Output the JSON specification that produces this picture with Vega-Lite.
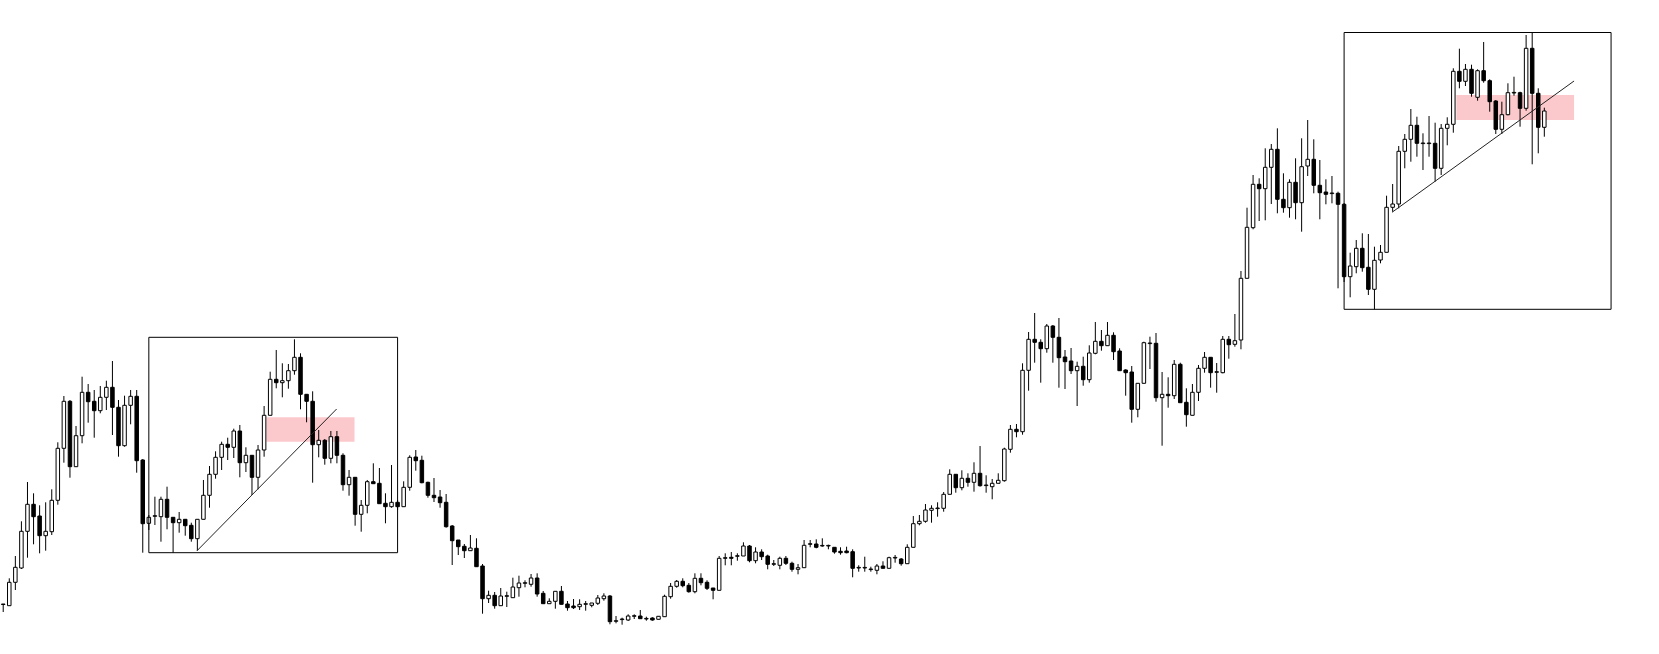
{
"$schema": "https://vega.github.io/schema/vega-lite/v6.json",
"width": 1659, "height": 654,
"autosize": {"type": "fit", "contains": "padding"},
"padding": 0,
"background": "white",
"config": {"view": {"stroke": null}, "scale": {"continuousPadding": 0}},
"datasets": {
"candles": [
{"i":0,"o":49.5,"h":50,"l":42,"c":50},
{"i":1,"o":48.3,"h":75.7,"l":48.3,"c":71.7},
{"i":2,"o":71.7,"h":98,"l":64,"c":86.7},
{"i":3,"o":86,"h":132.7,"l":85,"c":122.7},
{"i":4,"o":122.7,"h":172,"l":96.3,"c":149.7},
{"i":5,"o":149.7,"h":160.7,"l":109.7,"c":137.3},
{"i":6,"o":138,"h":148.7,"l":100.7,"c":118.3},
{"i":7,"o":118.3,"h":151.7,"l":103.3,"c":122.7},
{"i":8,"o":122.3,"h":164.7,"l":119,"c":153.7},
{"i":9,"o":153.7,"h":211.7,"l":149.3,"c":205.7},
{"i":10,"o":205.7,"h":258,"l":191.3,"c":252.7},
{"i":11,"o":252.7,"h":254,"l":176.3,"c":187.3},
{"i":12,"o":187.3,"h":228,"l":187.3,"c":218.3},
{"i":13,"o":218.3,"h":277.3,"l":210.7,"c":261.7},
{"i":14,"o":261.7,"h":270,"l":231.3,"c":252.3},
{"i":15,"o":252.7,"h":264,"l":216.3,"c":243.3},
{"i":16,"o":243.3,"h":268,"l":240.7,"c":256.7},
{"i":17,"o":256.7,"h":273.3,"l":244,"c":266.7},
{"i":18,"o":266.7,"h":293,"l":219,"c":246.7},
{"i":19,"o":246.7,"h":254,"l":197.3,"c":208.3},
{"i":20,"o":208.3,"h":258.3,"l":207.3,"c":248.7},
{"i":21,"o":248.7,"h":264,"l":229.7,"c":257.7},
{"i":22,"o":257.7,"h":264,"l":181.3,"c":193.3},
{"i":23,"o":194,"h":195,"l":101.3,"c":130.3},
{"i":24,"o":130.7,"h":139,"l":124,"c":136.7},
{"i":25,"o":137.7,"h":157.3,"l":129,"c":138.3},
{"i":26,"o":137.3,"h":157.3,"l":112.3,"c":154.7},
{"i":27,"o":154.7,"h":167.3,"l":124.7,"c":136.7},
{"i":28,"o":136.7,"h":136.7,"l":101.3,"c":131.3},
{"i":29,"o":131.3,"h":142,"l":121.3,"c":134.7},
{"i":30,"o":134.7,"h":134.7,"l":118.3,"c":128.3},
{"i":31,"o":128.7,"h":131.3,"l":112.3,"c":115.3},
{"i":32,"o":115.3,"h":134.7,"l":103.3,"c":134.7},
{"i":33,"o":134.7,"h":174,"l":134.7,"c":158.7},
{"i":34,"o":158.7,"h":188,"l":146.3,"c":179.7},
{"i":35,"o":179.7,"h":202.7,"l":175.3,"c":196.7},
{"i":36,"o":196.7,"h":212.3,"l":184,"c":209.7},
{"i":37,"o":209.7,"h":216.3,"l":194,"c":206.7},
{"i":38,"o":206.7,"h":225.3,"l":196,"c":223},
{"i":39,"o":223,"h":229,"l":176.7,"c":191.3},
{"i":40,"o":191.3,"h":206.7,"l":182,"c":198.7},
{"i":41,"o":198.7,"h":198.7,"l":159,"c":176.7},
{"i":42,"o":176.7,"h":209,"l":164.7,"c":204},
{"i":43,"o":204,"h":248,"l":197.3,"c":238.7},
{"i":44,"o":238.7,"h":282.3,"l":238.7,"c":274.7},
{"i":45,"o":274.7,"h":304,"l":265.7,"c":271.3},
{"i":46,"o":271.3,"h":290.7,"l":256.7,"c":273.3},
{"i":47,"o":273.3,"h":290,"l":265.3,"c":283.3},
{"i":48,"o":283.3,"h":314.7,"l":279.3,"c":296.7},
{"i":49,"o":296.7,"h":300.7,"l":244.7,"c":259.7},
{"i":50,"o":259.7,"h":259.7,"l":231.7,"c":252.7},
{"i":51,"o":252.7,"h":262.7,"l":171.3,"c":209.3},
{"i":52,"o":209.3,"h":224,"l":196.7,"c":213.7},
{"i":53,"o":213.7,"h":215,"l":189.3,"c":195.7},
{"i":54,"o":195.7,"h":223,"l":190.7,"c":217.3},
{"i":55,"o":217.3,"h":223,"l":190.7,"c":198.7},
{"i":56,"o":198.7,"h":200.7,"l":163.3,"c":169.3},
{"i":57,"o":169.3,"h":184,"l":158.3,"c":176.7},
{"i":58,"o":176.7,"h":176.7,"l":128.3,"c":139.7},
{"i":59,"o":139.7,"h":154,"l":122.3,"c":148.7},
{"i":60,"o":148.7,"h":174,"l":140.7,"c":172.3},
{"i":61,"o":172.3,"h":190.7,"l":170.3,"c":170.3},
{"i":62,"o":170.7,"h":186,"l":150.3,"c":150.3},
{"i":63,"o":150.7,"h":160.7,"l":130.7,"c":147.3},
{"i":64,"o":147.3,"h":189,"l":146.3,"c":151.7},
{"i":65,"o":151.7,"h":154,"l":144,"c":147.3},
{"i":66,"o":147.3,"h":172.7,"l":147.3,"c":166.7},
{"i":67,"o":166.7,"h":198.7,"l":163.3,"c":196.7},
{"i":68,"o":197,"h":204,"l":183.3,"c":193.3},
{"i":69,"o":193.7,"h":198.3,"l":170.7,"c":171.3},
{"i":70,"o":171.7,"h":172.3,"l":156.3,"c":158.7},
{"i":71,"o":158.7,"h":176,"l":152,"c":156.3},
{"i":72,"o":157,"h":164,"l":146.3,"c":151.3},
{"i":73,"o":151.7,"h":160,"l":126.3,"c":127.3},
{"i":74,"o":128,"h":129,"l":89,"c":113.3},
{"i":75,"o":114,"h":114,"l":99,"c":107.3},
{"i":76,"o":107.7,"h":110,"l":96,"c":103.3},
{"i":77,"o":103.3,"h":119,"l":103.3,"c":106},
{"i":78,"o":105.7,"h":115.7,"l":87.3,"c":87.3},
{"i":79,"o":88,"h":90,"l":40.3,"c":55.3},
{"i":80,"o":55.3,"h":63.3,"l":51,"c":58.7},
{"i":81,"o":58.7,"h":62,"l":45.3,"c":48.3},
{"i":82,"o":48.3,"h":66,"l":48.3,"c":58},
{"i":83,"o":57.7,"h":62.3,"l":47,"c":58.3},
{"i":84,"o":56.3,"h":76.3,"l":56.3,"c":67},
{"i":85,"o":66.3,"h":78.3,"l":57.3,"c":71},
{"i":86,"o":70.7,"h":73.7,"l":66.7,"c":71.3},
{"i":87,"o":69.7,"h":80,"l":67.3,"c":76},
{"i":88,"o":76,"h":80.7,"l":57.3,"c":60},
{"i":89,"o":60.7,"h":63,"l":50.3,"c":50.3},
{"i":90,"o":50.3,"h":55.7,"l":50.3,"c":52.7},
{"i":91,"o":52.7,"h":62.7,"l":45.3,"c":62.7},
{"i":92,"o":62.7,"h":68,"l":49.7,"c":49.7},
{"i":93,"o":50,"h":53,"l":43.3,"c":46.3},
{"i":94,"o":48,"h":55,"l":45,"c":46.3},
{"i":95,"o":47.3,"h":54.7,"l":44,"c":49.7},
{"i":96,"o":49.7,"h":53,"l":43.3,"c":50.3},
{"i":97,"o":48.7,"h":51,"l":46.7,"c":51},
{"i":98,"o":50.7,"h":59,"l":49,"c":56},
{"i":99,"o":55.3,"h":60.7,"l":53.3,"c":58},
{"i":100,"o":58,"h":59,"l":29.7,"c":32.3},
{"i":101,"o":32.7,"h":38,"l":30.7,"c":33.3},
{"i":102,"o":34.4,"h":36.3,"l":29.3,"c":35},
{"i":103,"o":34,"h":39.7,"l":33,"c":38},
{"i":104,"o":37.7,"h":39.7,"l":35,"c":38.3},
{"i":105,"o":38,"h":44,"l":35.3,"c":35.3},
{"i":106,"o":35,"h":37.3,"l":33.3,"c":35.6},
{"i":107,"o":36,"h":36.7,"l":33.3,"c":34},
{"i":108,"o":34.7,"h":37.7,"l":34.7,"c":37.7},
{"i":109,"o":37.3,"h":59.3,"l":37.3,"c":57.7},
{"i":110,"o":57.3,"h":71,"l":55.3,"c":67.7},
{"i":111,"o":67.7,"h":74,"l":66.3,"c":72.7},
{"i":112,"o":72.7,"h":75.7,"l":66.7,"c":68.3},
{"i":113,"o":68.7,"h":71,"l":61.3,"c":62.3},
{"i":114,"o":62.3,"h":80.7,"l":60.7,"c":75.7},
{"i":115,"o":75.7,"h":80.7,"l":68.7,"c":71.3},
{"i":116,"o":71.7,"h":73.7,"l":64,"c":65.7},
{"i":117,"o":66,"h":66,"l":54.7,"c":63.7},
{"i":118,"o":63.7,"h":98,"l":63.7,"c":95.7},
{"i":119,"o":95.7,"h":100.7,"l":88.7,"c":96.3},
{"i":120,"o":96.7,"h":102,"l":88.7,"c":95.7},
{"i":121,"o":97.7,"h":100.7,"l":93.3,"c":98.3},
{"i":122,"o":98,"h":111.7,"l":98,"c":108},
{"i":123,"o":108,"h":109,"l":91.7,"c":93.3},
{"i":124,"o":93.3,"h":106.7,"l":90.7,"c":102},
{"i":125,"o":102,"h":104.7,"l":94,"c":97.3},
{"i":126,"o":98,"h":99.3,"l":84.7,"c":89.7},
{"i":127,"o":89.7,"h":94,"l":88,"c":90.3},
{"i":128,"o":88.7,"h":97.3,"l":84.7,"c":95.7},
{"i":129,"o":95.7,"h":98,"l":89,"c":90.7},
{"i":130,"o":90.7,"h":92.3,"l":82.3,"c":84.7},
{"i":131,"o":84.7,"h":90,"l":79.7,"c":86.3},
{"i":132,"o":86.3,"h":114,"l":86.3,"c":108.7},
{"i":133,"o":109.7,"h":114,"l":106.7,"c":110.3},
{"i":134,"o":110,"h":114.7,"l":105.7,"c":106.7},
{"i":135,"o":108,"h":115.7,"l":107.3,"c":108.6},
{"i":136,"o":108,"h":109.3,"l":104.7,"c":108.6},
{"i":137,"o":106.7,"h":106.7,"l":100.3,"c":102},
{"i":138,"o":102.7,"h":106.7,"l":99.3,"c":101.3},
{"i":139,"o":103,"h":107.3,"l":100.7,"c":101.3},
{"i":140,"o":102.3,"h":104.7,"l":76.7,"c":85.7},
{"i":141,"o":86,"h":88.7,"l":82.3,"c":86.6},
{"i":142,"o":86,"h":97.3,"l":82.3,"c":86.6},
{"i":143,"o":84.4,"h":87.3,"l":82.3,"c":85},
{"i":144,"o":83.7,"h":90,"l":79.7,"c":88},
{"i":145,"o":88,"h":92.7,"l":85.7,"c":85.7},
{"i":146,"o":85.7,"h":97.3,"l":85.7,"c":96.3},
{"i":147,"o":96,"h":99,"l":91.3,"c":96.6},
{"i":148,"o":95,"h":96,"l":88.3,"c":90.3},
{"i":149,"o":90.3,"h":109.7,"l":90.3,"c":106.7},
{"i":150,"o":106.7,"h":138,"l":106.7,"c":130.3},
{"i":151,"o":130.3,"h":139,"l":128.7,"c":132.7},
{"i":152,"o":132.7,"h":150,"l":131.3,"c":144},
{"i":153,"o":143.7,"h":148.7,"l":131.3,"c":145.7},
{"i":154,"o":145.4,"h":151.7,"l":137.3,"c":146},
{"i":155,"o":145.7,"h":162,"l":142.3,"c":159.7},
{"i":156,"o":159.7,"h":184.7,"l":159.7,"c":179.7},
{"i":157,"o":179.7,"h":179.7,"l":161.3,"c":166.3},
{"i":158,"o":166.3,"h":183.7,"l":163.7,"c":175.7},
{"i":159,"o":175.7,"h":180.7,"l":167.3,"c":171.7},
{"i":160,"o":171.7,"h":191.7,"l":162.3,"c":180.7},
{"i":161,"o":180.7,"h":208,"l":167.3,"c":168.3},
{"i":162,"o":168.4,"h":178.7,"l":161.3,"c":169},
{"i":163,"o":167.3,"h":175,"l":154.7,"c":170.7},
{"i":164,"o":170.7,"h":180.7,"l":170.7,"c":173.7},
{"i":165,"o":173.3,"h":206.3,"l":172.3,"c":205},
{"i":166,"o":204.7,"h":229,"l":201.3,"c":224.7},
{"i":167,"o":224.7,"h":230,"l":216.7,"c":222.3},
{"i":168,"o":222.3,"h":290.7,"l":219.3,"c":283.7},
{"i":169,"o":283.7,"h":322,"l":263.3,"c":314.7},
{"i":170,"o":314.7,"h":341,"l":291.3,"c":311.7},
{"i":171,"o":311.7,"h":314.7,"l":271.3,"c":305.3},
{"i":172,"o":305.3,"h":330,"l":301.3,"c":328},
{"i":173,"o":328,"h":329,"l":291.3,"c":316.7},
{"i":174,"o":316.7,"h":336,"l":266.3,"c":296.3},
{"i":175,"o":297,"h":304,"l":265,"c":292.3},
{"i":176,"o":293,"h":306,"l":280,"c":283.3},
{"i":177,"o":283.3,"h":292.3,"l":248,"c":287.7},
{"i":178,"o":287.7,"h":297.3,"l":268.3,"c":274.3},
{"i":179,"o":274.3,"h":308.7,"l":271.3,"c":301},
{"i":180,"o":300.7,"h":332,"l":299.7,"c":312.7},
{"i":181,"o":312.7,"h":324,"l":303.3,"c":308.3},
{"i":182,"o":308.3,"h":332,"l":308.3,"c":318.7},
{"i":183,"o":318.7,"h":321.7,"l":294,"c":302.3},
{"i":184,"o":303,"h":305.7,"l":283.3,"c":283.3},
{"i":185,"o":284,"h":284.7,"l":258.3,"c":281.3},
{"i":186,"o":282,"h":288,"l":231.3,"c":244.7},
{"i":187,"o":244.7,"h":270.7,"l":236.7,"c":270.7},
{"i":188,"o":270.7,"h":312.3,"l":270.7,"c":311.3},
{"i":189,"o":310.4,"h":317.3,"l":285,"c":311},
{"i":190,"o":310.7,"h":321,"l":252.3,"c":256.3},
{"i":191,"o":256.3,"h":282,"l":208.3,"c":259.7},
{"i":192,"o":259.7,"h":276.7,"l":246.3,"c":258.3},
{"i":193,"o":258.3,"h":294,"l":255,"c":289.7},
{"i":194,"o":289.7,"h":291.3,"l":251.3,"c":251.3},
{"i":195,"o":251.7,"h":265.7,"l":227.3,"c":239.3},
{"i":196,"o":238.7,"h":270,"l":238.7,"c":261.7},
{"i":197,"o":261.7,"h":289,"l":253,"c":285.7},
{"i":198,"o":285.7,"h":302,"l":281.3,"c":296.7},
{"i":199,"o":296.7,"h":296.7,"l":266.3,"c":281.3},
{"i":200,"o":281.7,"h":291,"l":261.3,"c":282.3},
{"i":201,"o":281.3,"h":318,"l":280.7,"c":314.7},
{"i":202,"o":314.7,"h":318,"l":295.3,"c":309.3},
{"i":203,"o":309.7,"h":340,"l":307.3,"c":313.3},
{"i":204,"o":314,"h":383,"l":304.7,"c":375.7},
{"i":205,"o":375.7,"h":446.3,"l":375.7,"c":426.7},
{"i":206,"o":426.3,"h":479,"l":424.7,"c":469.7},
{"i":207,"o":469.7,"h":475.7,"l":433,"c":465.3},
{"i":208,"o":465.3,"h":505.7,"l":433.7,"c":486.7},
{"i":209,"o":486.7,"h":510,"l":450,"c":504.7},
{"i":210,"o":504.7,"h":525.7,"l":440.7,"c":454.7},
{"i":211,"o":454.7,"h":480.7,"l":441.3,"c":446.3},
{"i":212,"o":446.3,"h":474.7,"l":436.3,"c":471.7},
{"i":213,"o":471.7,"h":495.7,"l":434.7,"c":451.3},
{"i":214,"o":451.3,"h":515.7,"l":422.3,"c":487.3},
{"i":215,"o":488,"h":534,"l":478,"c":494.7},
{"i":216,"o":494.7,"h":514.7,"l":460.7,"c":468.7},
{"i":217,"o":468.7,"h":494,"l":434.7,"c":461.3},
{"i":218,"o":462,"h":474.7,"l":449.7,"c":459.7},
{"i":219,"o":460.4,"h":478,"l":450.7,"c":461},
{"i":220,"o":460.7,"h":462.3,"l":365.7,"c":449.7},
{"i":221,"o":449.7,"h":451,"l":372,"c":377.3},
{"i":222,"o":377.3,"h":401.3,"l":356.7,"c":388},
{"i":223,"o":387.3,"h":414,"l":380.7,"c":405.7},
{"i":224,"o":405.7,"h":420.7,"l":382.3,"c":386.3},
{"i":225,"o":386.7,"h":420,"l":359,"c":364.7},
{"i":226,"o":364.7,"h":407.3,"l":344.7,"c":393.7},
{"i":227,"o":394,"h":409,"l":390.7,"c":401.7},
{"i":228,"o":401.7,"h":458.3,"l":401.7,"c":446.7},
{"i":229,"o":446.7,"h":470,"l":442.3,"c":450},
{"i":230,"o":450,"h":508,"l":445.7,"c":502.7},
{"i":231,"o":502.7,"h":520,"l":485.7,"c":514.7},
{"i":232,"o":514.7,"h":545,"l":492.3,"c":528.7},
{"i":233,"o":528.7,"h":537.3,"l":497.3,"c":510.7},
{"i":234,"o":510.4,"h":520.7,"l":484,"c":511},
{"i":235,"o":510.4,"h":538,"l":497.3,"c":511},
{"i":236,"o":510.7,"h":531.3,"l":472.3,"c":485.7},
{"i":237,"o":485.7,"h":530,"l":479,"c":525.7},
{"i":238,"o":525.7,"h":536.7,"l":508.7,"c":529.7},
{"i":239,"o":529.7,"h":585.7,"l":521.3,"c":582.7},
{"i":240,"o":582.7,"h":605.3,"l":565.7,"c":572.7},
{"i":241,"o":572.7,"h":590,"l":568,"c":584.7},
{"i":242,"o":584.7,"h":589.3,"l":557.3,"c":560.7},
{"i":243,"o":556.7,"h":584.7,"l":553.3,"c":583.3},
{"i":244,"o":583.3,"h":612,"l":571.3,"c":573.3},
{"i":245,"o":573.3,"h":574.7,"l":542.3,"c":552.3},
{"i":246,"o":553,"h":554,"l":520,"c":524.7},
{"i":247,"o":524.7,"h":552.3,"l":520,"c":539.3},
{"i":248,"o":539.3,"h":570.7,"l":538.7,"c":561.3},
{"i":249,"o":561,"h":577.3,"l":558.3,"c":561.6},
{"i":250,"o":561.3,"h":562.3,"l":527.3,"c":545.7},
{"i":251,"o":545.7,"h":619,"l":543.3,"c":605.7},
{"i":252,"o":605.7,"h":621.7,"l":489.7,"c":560.7},
{"i":253,"o":560.7,"h":565.7,"l":500.7,"c":526.7},
{"i":254,"o":526.7,"h":546.3,"l":517.3,"c":543}
],
"zones": [
{"x1":43.4,"x2":57.9,"y1":212.3,"y2":236.7},
{"x1":239.5,"x2":258.9,"y1":534,"y2":559}
],
"boxes": [
{"x1":24,"x2":65,"y1":101.3,"y2":316.7},
{"x1":221,"x2":265,"y1":344.7,"y2":621.5}
],
"lines": [
{"x1":31.95,"y1":103.3,"x2":54.95,"y2":245},
{"x1":228.9,"y1":441.7,"x2":258.9,"y2":573}
]
},
"layer": [
{"data": {"name": "zones"},
 "mark": {"type": "rect", "fill": "#fbc8cc"},
 "encoding": {
  "x": {"field": "x1", "type": "quantitative", "scale": {"domain": [-0.2, 272.9], "nice": false, "zero": false, "padding": 0}, "axis": null},
  "x2": {"field": "x2"},
  "y": {"field": "y1", "type": "quantitative", "scale": {"domain": [0, 654], "nice": false, "zero": false, "padding": 0}, "axis": null},
  "y2": {"field": "y2"}}},
{"data": {"name": "candles"},
 "mark": {"type": "rule", "color": "black", "strokeWidth": 1},
 "encoding": {
  "x": {"field": "i", "type": "quantitative", "scale": {"domain": [-0.2, 272.9], "nice": false, "zero": false, "padding": 0}, "axis": null},
  "y": {"field": "l", "type": "quantitative", "scale": {"domain": [0, 654], "nice": false, "zero": false, "padding": 0}, "axis": null},
  "y2": {"field": "h"}}},
{"data": {"name": "candles"},
 "mark": {"type": "bar", "width": 3.5, "stroke": "black", "strokeWidth": 1},
 "encoding": {
  "x": {"field": "i", "type": "quantitative", "scale": {"domain": [-0.2, 272.9], "nice": false, "zero": false, "padding": 0}, "axis": null},
  "y": {"field": "o", "type": "quantitative", "scale": {"domain": [0, 654], "nice": false, "zero": false, "padding": 0}, "axis": null},
  "y2": {"field": "c"},
  "fill": {"condition": {"test": "datum.c < datum.o", "value": "black"}, "value": "white"}}},
{"data": {"name": "boxes"},
 "mark": {"type": "rect", "fill": null, "fillOpacity": 0, "stroke": "black", "strokeWidth": 1},
 "encoding": {
  "x": {"field": "x1", "type": "quantitative", "scale": {"domain": [-0.2, 272.9], "nice": false, "zero": false, "padding": 0}, "axis": null},
  "x2": {"field": "x2"},
  "y": {"field": "y1", "type": "quantitative", "scale": {"domain": [0, 654], "nice": false, "zero": false, "padding": 0}, "axis": null},
  "y2": {"field": "y2"}}},
{"data": {"name": "lines"},
 "mark": {"type": "rule", "color": "#222222", "strokeWidth": 1},
 "encoding": {
  "x": {"field": "x1", "type": "quantitative", "scale": {"domain": [-0.2, 272.9], "nice": false, "zero": false, "padding": 0}, "axis": null},
  "x2": {"field": "x2"},
  "y": {"field": "y1", "type": "quantitative", "scale": {"domain": [0, 654], "nice": false, "zero": false, "padding": 0}, "axis": null},
  "y2": {"field": "y2"}}}
]
}
